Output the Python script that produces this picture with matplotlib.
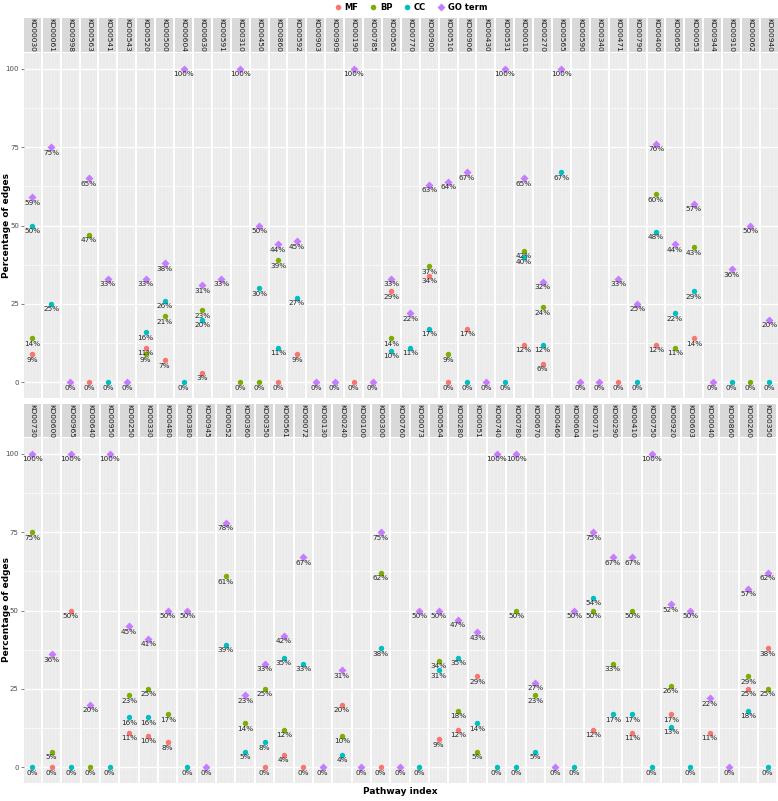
import matplotlib
matplotlib.use("Agg")
import matplotlib.pyplot as plt
from matplotlib.lines import Line2D
import numpy as np

# ---- data (percent of edges, None = not present) ----
top_paths = ["KO00030", "KO00061", "KO00998", "KO00563", "KO00541", "KO00543", "KO00520", "KO00500",
             "KO00604", "KO00630", "KO00591", "KO00310", "KO00450", "KO00860", "KO00592", "KO00903",
             "KO00909", "KO00190", "KO00785", "KO00562", "KO00770", "KO00900", "KO00510", "KO00906",
             "KO00430", "KO00531", "KO00010", "KO00270", "KO00565", "KO00590", "KO00340", "KO00471",
             "KO00790", "KO00400", "KO00650", "KO00053", "KO00944", "KO00910", "KO00062", "KO00940"]
top_mf = [9, None, None, 0, None, None, 11, 7, None, 3, None, None, None, 0, 9, None,
          None, 0, None, 29, None, 34, 0, 17, None, None, 12, 6, None, None, None, 0,
          None, 12, None, 14, None, None, None, None]
top_bp = [14, None, None, 47, None, None, 9, 21, None, 23, None, 0, 0, 39, None, None,
          None, None, None, 14, None, 37, 9, None, None, None, 42, 24, None, None, None, None,
          None, 60, 11, 43, None, None, 0, None]
top_cc = [50, 25, None, None, 0, None, 16, 26, 0, 20, None, None, 30, 11, 27, None,
          None, None, None, 10, 11, 17, None, 0, None, 0, 40, 12, 67, None, None, None,
          0, 48, 22, 29, None, 0, None, 0]
top_go = [59, 75, 0, 65, 33, 0, 33, 38, 100, 31, 33, 100, 50, 44, 45, 0,
          0, 100, 0, 33, 22, 63, 64, 67, 0, 100, 65, 32, 100, 0, 0, 33,
          25, 76, 44, 57, 0, 36, 50, 20]

bot_paths = ["KO00730", "KO00600", "KO00965", "KO00640", "KO00950", "KO00250", "KO00330", "KO00480",
             "KO00380", "KO00945", "KO00052", "KO00360", "KO00350", "KO00561", "KO00072", "KO00130",
             "KO00240", "KO00100", "KO00300", "KO00760", "KO00073", "KO00564", "KO00280", "KO00051",
             "KO00740", "KO00780", "KO00670", "KO00460", "KO00604", "KO00710", "KO00290", "KO00410",
             "KO00750", "KO00920", "KO00603", "KO00040", "KO00860", "KO00260", "KO00350"]
bot_mf = [None, 0, 50, None, None, 11, 10, 8, None, None, None, None, 0, 4, 0, None,
          20, None, 0, None, None, 9, 12, 29, None, None, None, None, None, 12, None, 11,
          None, 17, None, 11, None, 25, 38]
bot_bp = [75, 5, None, 0, None, 23, 25, 17, None, None, 61, 14, 25, 12, None, None,
          10, None, 62, None, None, 34, 18, 5, None, 50, 23, None, None, 50, 33, 50,
          None, 26, None, None, None, 29, 25]
bot_cc = [0, None, 0, None, 0, 16, 16, None, 0, None, 39, 5, 8, 35, 33, None,
          4, None, 38, None, 0, 31, 35, 14, 0, 0, 5, None, 0, 54, 17, 17,
          0, 13, 0, None, None, 18, 0]
bot_go = [100, 36, 100, 20, 100, 45, 41, 50, 50, 0, 78, 23, 33, 42, 67, 0,
          31, 0, 75, 0, 50, 50, 47, 43, 100, 100, 27, 0, 50, 75, 67, 67,
          100, 52, 50, 22, 0, 57, 62]

series = ["MF", "BP", "CC", "GO term"]
colors = {"MF": "#F8766D", "BP": "#7CAE00", "CC": "#00BFC4", "GO term": "#C77CFF"}
markers = {"MF": "o", "BP": "o", "CC": "o", "GO term": "D"}
msize = {"MF": 3.9, "BP": 3.9, "CC": 3.9, "GO term": 3.6}

W, H = 778, 801
fig = plt.figure(figsize=(W / 100, H / 100), dpi=100)
fig.patch.set_facecolor("white")


def add_px_axes(left, top, w, h):
    return fig.add_axes([left / W, 1 - (top + h) / H, w / W, h / H])


def draw_row(paths, values, first_center, step, strip_top, strip_h, panel_top, panel_h):
    fw = step - 2.0
    for i, path in enumerate(paths):
        left = first_center + i * step - fw / 2
        # strip
        sax = add_px_axes(left, strip_top, fw, strip_h)
        sax.set_facecolor("#D9D9D9")
        sax.set_xticks([])
        sax.set_yticks([])
        for s in sax.spines.values():
            s.set_visible(False)
        sax.text(0.5, 0.5, path, rotation=-90, ha="center", va="center",
                 fontsize=5.4, color="#1A1A1A", transform=sax.transAxes)

        ax = add_px_axes(left, panel_top, fw, panel_h)
        ax.set_facecolor("#EBEBEB")
        ax.set_xlim(-0.5, 0.5)
        ax.set_ylim(-5, 105)
        for s in ax.spines.values():
            s.set_visible(False)
        for y in [12.5, 37.5, 62.5, 87.5]:
            ax.axhline(y, color="white", lw=0.5, zorder=0)
        for y in [0, 25, 50, 75, 100]:
            ax.axhline(y, color="white", lw=1.0, zorder=0)
        for x in np.linspace(-0.38, 0.38, 5):
            ax.axvline(x, color="white", lw=0.4, alpha=0.7, ls=(0, (1, 1)), zorder=0)
        ax.set_xticks([])
        if i == 0:
            ax.set_yticks([0, 25, 50, 75, 100])
            ax.tick_params(axis="y", labelsize=5, colors="#4D4D4D", length=2, width=0.5, pad=1.5)
        else:
            ax.set_yticks([])

        for name in series:
            v = values[name][i]
            if v is None:
                continue
            ax.plot(0, v, marker=markers[name], color=colors[name], ms=msize[name],
                    mec="none", clip_on=False, zorder=3)
        for name in series:
            v = values[name][i]
            if v is None:
                continue
            ax.annotate(f"{v}%", xy=(0, v), xytext=(0, -5.5), textcoords="offset pixels",
                        ha="center", va="center", fontsize=5.2, color="#262626",
                        annotation_clip=False, zorder=4)


draw_row(top_paths, {"MF": top_mf, "BP": top_bp, "CC": top_cc, "GO term": top_go},
         32.3, 18.9, 18, 34, 53, 345)
draw_row(bot_paths, {"MF": bot_mf, "BP": bot_bp, "CC": bot_cc, "GO term": bot_go},
         32.3, 19.35, 404, 33, 438, 345)

fig.text(7 / W, 1 - 225 / H, "Percentage of edges", rotation=90, ha="center", va="center",
         fontsize=6.5, fontweight="bold", color="black")
fig.text(7 / W, 1 - 610 / H, "Percentage of edges", rotation=90, ha="center", va="center",
         fontsize=6.5, fontweight="bold", color="black")
fig.text(400 / W, 1 - 792 / H, "Pathway index", ha="center", va="center",
         fontsize=6.5, fontweight="bold", color="black")

handles = [Line2D([], [], marker=markers[n], color=colors[n], ls="none", ms=4, mec="none")
           for n in series]
fig.legend(handles, series, loc="center", bbox_to_anchor=(410 / W, 1 - 7 / H), ncol=4,
           frameon=False, prop={"size": 6, "weight": "bold"}, handletextpad=0.2,
           columnspacing=1.2, handlelength=1.2)

fig.savefig("out.png", dpi=100)
